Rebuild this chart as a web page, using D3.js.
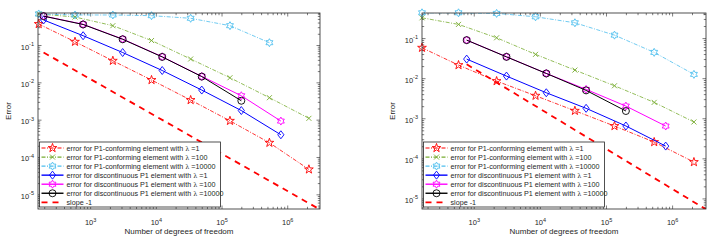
<!DOCTYPE html>
<html>
<head>
<meta charset="utf-8">
<script src="https://cdnjs.cloudflare.com/ajax/libs/d3/7.8.5/d3.min.js"></script>
<style>
body { margin: 0; background: #fff; }
svg text { font-family: "Liberation Sans", Arial, sans-serif; fill: #262626; }
</style>
</head>
<body>
<div id="chart"></div>
<script>
// degrees of freedom per refinement level
var dofConforming = [162, 578, 2178, 8450, 33282, 132098, 526338, 2101250];
var dofDiscLeft = [192, 768, 3072, 12288, 49152, 196608, 786432];
var dofDiscRight = [768, 3072, 12288, 49152, 196608, 786432];

// left panel errors
var leftConf1 = [0.377, 0.126, 0.039, 0.0119, 0.00346, 0.00096, 0.000248, 0.000048];
var leftConf100 = [0.70, 0.58, 0.34, 0.136, 0.0435, 0.0137, 0.0040, 0.00112];
var leftConf10000 = [0.70, 0.658, 0.658, 0.63, 0.536, 0.34, 0.119];
var leftDisc1 = [0.483, 0.183, 0.0649, 0.0214, 0.00641, 0.00181, 0.000406];
var leftDisc100 = [0.618, 0.37, 0.149, 0.050, 0.0149, 0.00451, 0.000946];
var leftDisc10000 = [0.612, 0.366, 0.147, 0.0495, 0.0147, 0.00331];
var leftSlopeX = [192, 4e6];
var leftSlopeY = [0.0651, 3.125e-6];

// right panel errors
var rightConf1 = [0.059, 0.0218, 0.0087, 0.00375, 0.00158, 0.000658, 0.000262, 0.000083];
var rightConf100 = [0.330, 0.226, 0.1047, 0.0404, 0.01637, 0.00665, 0.00256, 0.00083];
var rightConf10000 = [0.44, 0.44, 0.425, 0.35, 0.248, 0.122, 0.0453, 0.0128];
var rightDisc1 = [0.0308, 0.0116, 0.00445, 0.00182, 0.00066, 0.000208];
var rightDisc100 = [0.0918, 0.0352, 0.01355, 0.0054, 0.00207, 0.000658];
var rightDisc10000 = [0.0915, 0.035, 0.0135, 0.0051, 0.00156];
var rightSlopeX = [768, 4e6];
var rightSlopeY = [0.0228, 4.375e-6];

var xTicks = [1e3, 1e4, 1e5, 1e6];
var yTicks = [1e-1, 1e-2, 1e-3, 1e-4, 1e-5];

var legendNames = [
    "error for P1-conforming element with",
    "error for P1-conforming element with",
    "error for P1-conforming element with",
    "error for discontinuous P1 element with",
    "error for discontinuous P1 element with",
    "error for discontinuous P1 element with"
];
var legendLambdas = ["=1", "=100", "=10000", "=1", "=100", "=10000"];
var slopeLabel = "slope -1";

// line / marker styles (same order as legend)
var styles = [
    { color: "#ff0000", dash: "4,1.5,1,1.5", width: 0.8, marker: "star" },
    { color: "#77ac30", dash: "4,1.5,1,1.5", width: 0.8, marker: "x" },
    { color: "#4dbeee", dash: "4,1.5,1,1.5", width: 0.8, marker: "hex" },
    { color: "#0000ff", dash: null, width: 1, marker: "diamond" },
    { color: "#ff00ff", dash: null, width: 1, marker: "hex" },
    { color: "#000000", dash: null, width: 1, marker: "circle" }
];

function polyStar(n, ro, ri) {
    var pts = [];
    for (var i = 0; i < 2 * n; i++) {
        var a = -Math.PI / 2 + i * Math.PI / n;
        var r = i % 2 === 0 ? ro : ri;
        pts.push([r * Math.cos(a), r * Math.sin(a)]);
    }
    return "M" + pts.map(p => p[0].toFixed(2) + "," + p[1].toFixed(2)).join("L") + "Z";
}

function markerPath(type) {
    if (type === "star") return polyStar(5, 4.6, 1.8);
    if (type === "hex") return polyStar(6, 4.0, 2.3);
    if (type === "x") return "M-2.5,-2.5L2.5,2.5M-2.5,2.5L2.5,-2.5";
    if (type === "diamond") return "M0,-4L3.1,0L0,4L-3.1,0Z";
    return "M3.5,0A3.5,3.5 0 1,1 -3.5,0A3.5,3.5 0 1,1 3.5,0Z";
}

var svg = d3.select("#chart").append("svg")
    .attr("width", 716).attr("height", 244);

svg.append("rect").attr("width", 716).attr("height", 244).attr("fill", "#fff");

function drawPanel(cfg, id) {
    var x = d3.scaleLog().domain(cfg.xDomain).range([cfg.left, cfg.right]);
    var y = d3.scaleLog().domain(cfg.yDomain).range([cfg.bottom, cfg.top]);
    var g = svg.append("g");

    g.append("clipPath").attr("id", "clip" + id)
        .append("rect")
        .attr("x", cfg.left).attr("y", cfg.top)
        .attr("width", cfg.right - cfg.left).attr("height", cfg.bottom - cfg.top);

    // minor + major ticks, inward, on all sides
    var xMinor = [], yMinor = [];
    for (var e = 2; e <= 6; e++) for (var k = 2; k <= 9; k++) {
        var v = k * Math.pow(10, e);
        if (v > cfg.xDomain[0] && v < cfg.xDomain[1]) xMinor.push(v);
    }
    for (var e2 = -6; e2 <= 0; e2++) for (var k2 = 2; k2 <= 9; k2++) {
        var v2 = k2 * Math.pow(10, e2);
        if (v2 > cfg.yDomain[0] && v2 < cfg.yDomain[1]) yMinor.push(v2);
    }
    var tk = g.append("g").attr("stroke", "#262626").attr("stroke-width", 0.6);
    xMinor.forEach(function (v) {
        var px = x(v);
        tk.append("line").attr("x1", px).attr("x2", px).attr("y1", cfg.bottom).attr("y2", cfg.bottom - 2.2);
        tk.append("line").attr("x1", px).attr("x2", px).attr("y1", cfg.top).attr("y2", cfg.top + 2.2);
    });
    xTicks.forEach(function (v) {
        var px = x(v);
        tk.append("line").attr("x1", px).attr("x2", px).attr("y1", cfg.bottom).attr("y2", cfg.bottom - 3.5);
        tk.append("line").attr("x1", px).attr("x2", px).attr("y1", cfg.top).attr("y2", cfg.top + 3.5);
    });
    yMinor.forEach(function (v) {
        var py = y(v);
        tk.append("line").attr("x1", cfg.left).attr("x2", cfg.left + 2.2).attr("y1", py).attr("y2", py);
        tk.append("line").attr("x1", cfg.right).attr("x2", cfg.right - 2.2).attr("y1", py).attr("y2", py);
    });
    yTicks.forEach(function (v) {
        var py = y(v);
        tk.append("line").attr("x1", cfg.left).attr("x2", cfg.left + 3.5).attr("y1", py).attr("y2", py);
        tk.append("line").attr("x1", cfg.right).attr("x2", cfg.right - 3.5).attr("y1", py).attr("y2", py);
    });

    // tick labels
    xTicks.forEach(function (v) {
        var t = g.append("text").attr("x", x(v)).attr("y", 225)
            .attr("text-anchor", "middle").style("font-size", "7.5px");
        t.append("tspan").text("10");
        t.append("tspan").attr("dy", -3.5).style("font-size", "5.5px").text(Math.round(Math.log10(v)));
    });
    yTicks.forEach(function (v) {
        var t = g.append("text").attr("x", cfg.left - 4).attr("y", y(v) + 4)
            .attr("text-anchor", "end").style("font-size", "7.5px");
        t.append("tspan").text("10");
        t.append("tspan").attr("dy", -3.5).style("font-size", "5.5px").text(Math.round(Math.log10(v)));
    });

    // axis labels
    g.append("text")
        .attr("transform", "translate(" + (cfg.left - 27) + "," + ((cfg.top + cfg.bottom) / 2) + ") rotate(-90)")
        .attr("text-anchor", "middle").style("font-size", "8px").text("Error");
    g.append("text")
        .attr("x", (cfg.left + cfg.right) / 2).attr("y", 234)
        .attr("text-anchor", "middle").style("font-size", "8px").text("Number of degrees of freedom");

    var line = d3.line().x(d => x(d[0])).y(d => y(d[1]));
    var plot = g.append("g");

    cfg.series.forEach(function (s, i) {
        var st = styles[i];
        var pts = s.y.map((v, j) => [s.x[j], v]);
        plot.append("path")
            .attr("d", line(pts))
            .attr("clip-path", "url(#clip" + id + ")")
            .attr("fill", "none")
            .attr("stroke", st.color)
            .attr("stroke-width", st.width)
            .attr("stroke-dasharray", st.dash);
        plot.selectAll(".m" + i)
            .data(pts)
            .enter()
            .append("path")
            .attr("transform", d => "translate(" + x(d[0]) + "," + y(d[1]) + ")")
            .attr("d", markerPath(st.marker))
            .attr("fill", "none")
            .attr("stroke", st.color)
            .attr("stroke-width", 0.9);
    });

    // slope -1 reference line
    plot.append("path")
        .attr("d", line(cfg.slopeX.map((v, j) => [v, cfg.slopeY[j]])))
        .attr("clip-path", "url(#clip" + id + ")")
        .attr("fill", "none")
        .attr("stroke", "#ff0000")
        .attr("stroke-width", 1.8)
        .attr("stroke-dasharray", "6,5");

    // axes box
    g.append("rect")
        .attr("x", cfg.left).attr("y", cfg.top)
        .attr("width", cfg.right - cfg.left).attr("height", cfg.bottom - cfg.top)
        .attr("fill", "none").attr("stroke", "#262626").attr("stroke-width", 0.8);

    // legend
    var bx = cfg.left + 1.5, by = 142, bw = 181, bh = 65;
    var leg = g.append("g");
    leg.append("rect").attr("x", bx).attr("y", by).attr("width", bw).attr("height", bh)
        .attr("fill", "#fff").attr("stroke", "#262626").attr("stroke-width", 0.8);
    var rowH = 9.05;
    legendNames.forEach(function (name, i) {
        var st = styles[i];
        var ry = by + 6 + i * rowH;
        leg.append("line").attr("x1", bx + 2).attr("x2", bx + 24).attr("y1", ry).attr("y2", ry)
            .attr("stroke", st.color).attr("stroke-width", st.width + 0.4).attr("stroke-dasharray", st.dash);
        leg.append("path").attr("transform", "translate(" + (bx + 13) + "," + ry + ")")
            .attr("d", markerPath(st.marker)).attr("fill", "none")
            .attr("stroke", st.color).attr("stroke-width", 0.9);
        var t = leg.append("text").attr("x", bx + 27).attr("y", ry + 2.5).style("font-size", "7.2px");
        t.append("tspan").text(name + " ");
        t.append("tspan").style("font-family", "'DejaVu Serif', serif").style("font-size", "6.5px").text("λ");
        t.append("tspan").text(" " + legendLambdas[i]);
    });
    var sy = by + 6 + 6 * rowH;
    leg.append("line").attr("x1", bx + 2).attr("x2", bx + 24).attr("y1", sy).attr("y2", sy)
        .attr("stroke", "#ff0000").attr("stroke-width", 1.8).attr("stroke-dasharray", "6,5");
    leg.append("text").attr("x", bx + 27).attr("y", sy + 2.5).style("font-size", "7.2px").text(slopeLabel);
}

drawPanel({
    left: 38, right: 320, top: 13, bottom: 209,
    xDomain: [158, 3.1e6], yDomain: [4.17e-6, 0.743],
    series: [
        { x: dofConforming, y: leftConf1 },
        { x: dofConforming, y: leftConf100 },
        { x: dofConforming, y: leftConf10000 },
        { x: dofDiscLeft, y: leftDisc1 },
        { x: dofDiscLeft, y: leftDisc100 },
        { x: dofDiscLeft, y: leftDisc10000 }
    ],
    slopeX: leftSlopeX, slopeY: leftSlopeY
}, 0);

drawPanel({
    left: 422, right: 706, top: 13, bottom: 209,
    xDomain: [162, 3.2e6], yDomain: [5.6e-6, 0.435],
    series: [
        { x: dofConforming, y: rightConf1 },
        { x: dofConforming, y: rightConf100 },
        { x: dofConforming, y: rightConf10000 },
        { x: dofDiscRight, y: rightDisc1 },
        { x: dofDiscRight, y: rightDisc100 },
        { x: dofDiscRight, y: rightDisc10000 }
    ],
    slopeX: rightSlopeX, slopeY: rightSlopeY
}, 1);
</script>
</body>
</html>
